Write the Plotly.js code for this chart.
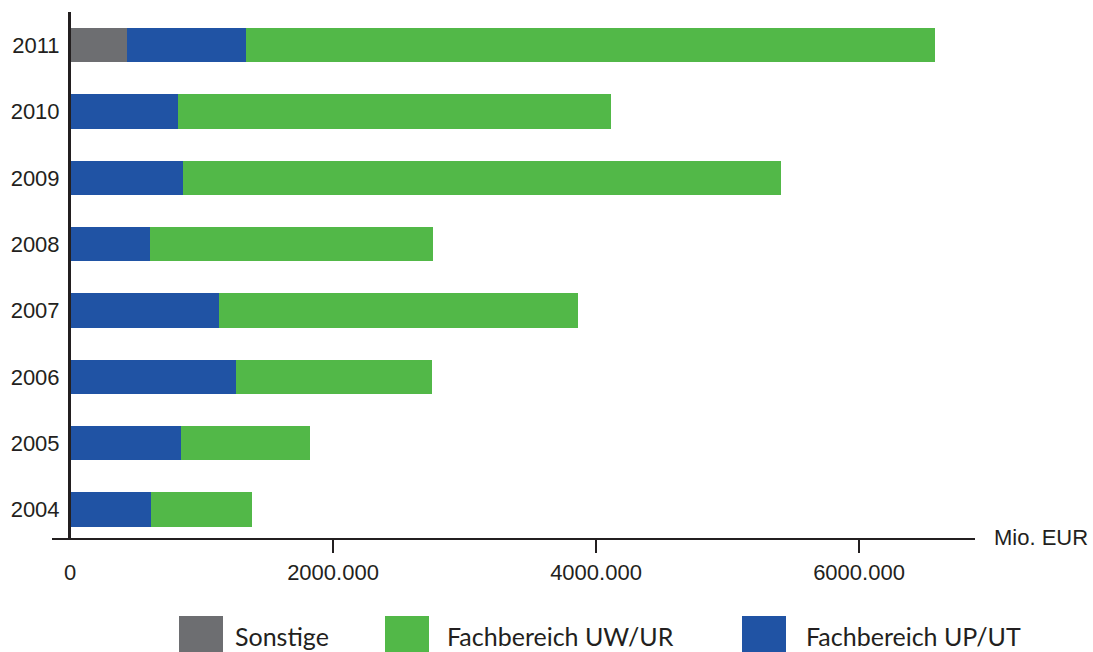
<!DOCTYPE html>
<html>
<head>
<meta charset="utf-8">
<script src="https://cdn.plot.ly/plotly-3.0.1.min.js"></script>
<style>
  html, body { margin: 0; padding: 0; background: #ffffff; }
  #chart { width: 1093px; height: 652px; }
</style>
</head>
<body>
<div id="chart"></div>
<script>
// Jahre (Kategorien, von unten nach oben)
const years = ['2004', '2005', '2006', '2007', '2008', '2009', '2010', '2011'];

// Werte in Mio. EUR je Jahr
const sonstige = [null, null, null, null, null, null, null, 430];
const fachbereichUpUt = [617, 847, 1263, 1131, 606, 860, 824, 905];
const fachbereichUwUr = [768, 976, 1493, 2733, 2152, 4550, 3292, 5245];

// Achsenbeschriftung
const xTickVals = [0, 2000, 4000, 6000];
const xTickText = ['0', '2000.000', '4000.000', '6000.000'];
const unitLabel = 'Mio. EUR';

const seriesNames = ['Sonstige', 'Fachbereich UP/UT', 'Fachbereich UW/UR'];
const seriesColors = ['#6d6e71', '#2053a4', '#52b848'];
const legendOrder = ['Sonstige', 'Fachbereich UW/UR', 'Fachbereich UP/UT'];

const ink = '#231f20';
const axisFont = '"Liberation Sans", Arial, sans-serif';
const legendFont = 'Lato, "Open Sans", sans-serif';

// Zeichenfläche in Pixeln
const W = 1093, H = 652;
const M = { l: 52, r: 118, t: 12, b: 114 };
const plotW = W - M.l - M.r;
const plotH = H - M.t - M.b;
const zeroPx = 70;           // Lage der senkrechten Achse
const pxPerUnit = 263 / 2000;
const xMin = -(zeroPx - M.l) / pxPerUnit;
const xMax = (W - M.r - zeroPx) / pxPerUnit;

const px2paperX = px => (px - M.l) / plotW;
const px2paperY = py => (H - M.b - py) / plotH;

const seriesValues = [sonstige, fachbereichUpUt, fachbereichUwUr];
const traces = seriesValues.map((vals, i) => ({
  type: 'bar',
  orientation: 'h',
  y: years,
  x: vals,
  name: seriesNames[i],
  marker: { color: seriesColors[i], line: { width: 0 } },
  hoverinfo: 'skip'
}));

// Legende als Farbfelder mit Beschriftung
const legendSwatchX = [179, 385, 742];
const legendTextX = [235, 447, 806];
const shapes = [];
const annotations = [];
legendOrder.forEach((name, k) => {
  const color = seriesColors[seriesNames.indexOf(name)];
  shapes.push({
    type: 'rect', xref: 'paper', yref: 'paper',
    x0: px2paperX(legendSwatchX[k]), x1: px2paperX(legendSwatchX[k] + 44),
    y0: px2paperY(616), y1: px2paperY(664),
    fillcolor: color, line: { width: 0 }, layer: 'above'
  });
  annotations.push({
    xref: 'paper', yref: 'paper',
    x: px2paperX(legendTextX[k] - 2), y: px2paperY(636),
    xanchor: 'left', yanchor: 'middle',
    text: name, showarrow: false,
    font: { family: legendFont, size: 25, color: ink }
  });
});

// Einheit rechts neben der waagerechten Achse
annotations.push({
  xref: 'paper', yref: 'paper',
  x: px2paperX(992), y: px2paperY(537),
  xanchor: 'left', yanchor: 'middle',
  text: unitLabel, showarrow: false,
  font: { family: axisFont, size: 22, color: ink }
});

const layout = {
  width: W, height: H,
  margin: M,
  paper_bgcolor: '#ffffff',
  plot_bgcolor: '#ffffff',
  barmode: 'stack',
  bargap: 0.48,
  showlegend: false,
  xaxis: {
    range: [xMin, xMax],
    showgrid: false, zeroline: false,
    showline: true, linecolor: ink, linewidth: 2,
    ticks: '',
    tickmode: 'array', tickvals: xTickVals, ticktext: xTickText,
    tickfont: { family: axisFont, size: 22, color: ink },
    ticklabelstandoff: 14,
    minor: {
      tickmode: 'array', tickvals: xTickVals.slice(1),
      ticks: 'outside', ticklen: 13, tickwidth: 2, tickcolor: ink,
      showgrid: false
    },
    fixedrange: true
  },
  yaxis: {
    type: 'category',
    categoryorder: 'array', categoryarray: years,
    range: [-0.43, 7.5],
    anchor: 'free', position: px2paperX(zeroPx - 1),
    showgrid: false, zeroline: false,
    showline: true, linecolor: ink, linewidth: 2.5,
    ticks: '',
    tickfont: { family: axisFont, size: 22, color: ink },
    ticklabelstandoff: 4,
    fixedrange: true
  },
  shapes: shapes,
  annotations: annotations
};

Plotly.newPlot('chart', traces, layout, { displayModeBar: false, staticPlot: true });
</script>
</body>
</html>
